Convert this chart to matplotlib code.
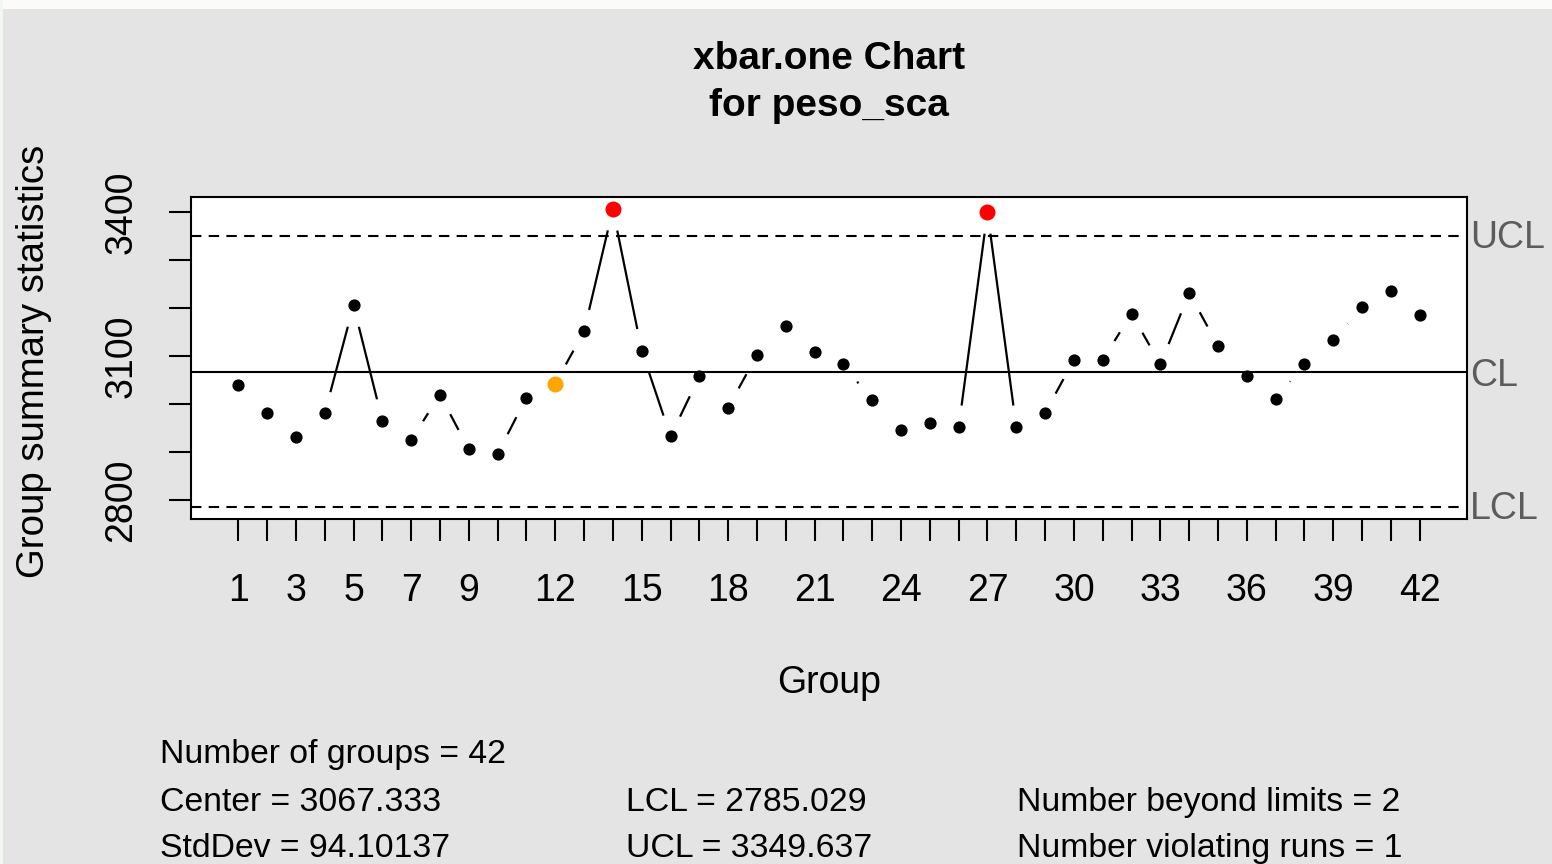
import matplotlib
matplotlib.use('Agg')
import matplotlib.pyplot as plt
import numpy as np

# données
groups = list(range(1, 43))
values = [3040, 2980, 2931, 2980, 3205, 2965, 2925, 3019, 2905, 2896,
          3013, 3042, 3151, 3406, 3111, 2932, 3057, 2992, 3102, 3163,
          3107, 3082, 3007, 2946, 2961, 2951, 3400, 2951, 2981, 3092,
          3092, 3188, 3082, 3231, 3121, 3057, 3011, 3082, 3132, 3202,
          3236, 3186]
beyond_limits = [14, 27]
violating_runs = [12]

center = 3067.333
lcl = 2785.029
ucl = 3349.637
stddev = 94.10137

x_labels_shown = [1, 3, 5, 7, 9, 12, 15, 18, 21, 24, 27, 30, 33, 36, 39, 42]
y_ticks = [2800, 2900, 3000, 3100, 3200, 3300, 3400]
y_labels_shown = [2800, 3100, 3400]

plt.rcParams['font.family'] = ['Liberation Sans', 'DejaVu Sans']

W, H = 1552, 864
fig = plt.figure(figsize=(W / 100, H / 100), dpi=100)
fig.patch.set_facecolor('#e4e4e4')

# bandes blanches de la capture d'écran
fig.patches.append(plt.Rectangle((0, 1 - 9 / H), 1, 9 / H, transform=fig.transFigure,
                                 facecolor='#fbfcfa', edgecolor='none'))
fig.patches.append(plt.Rectangle((0, 0), 3 / W, 1, transform=fig.transFigure,
                                 facecolor='#f3f7f1', edgecolor='none'))

left, right, top, bottom = 191, 1467, 197, 519
ax = fig.add_axes([left / W, 1 - bottom / H, (right - left) / W, (bottom - top) / H])
ax.set_facecolor('white')
ax.set_xlim(-0.64, 43.64)
ax.set_ylim(2760, 3431)

for s in ax.spines.values():
    s.set_linewidth(1.5)

# lignes de contrôle
ax.axhline(center, color='black', lw=1.5)
ax.axhline(ucl, color='black', lw=1.5, dashes=(5, 3.5))
ax.axhline(lcl, color='black', lw=1.5, dashes=(5, 3.5))

# segments avec espace autour des points (type "b" de R)
fig.canvas.draw()
gap = 22
pts = ax.transData.transform(np.column_stack([groups, values]))
inv = ax.transData.inverted()
for i in range(len(pts) - 1):
    p0, p1 = pts[i], pts[i + 1]
    d = np.hypot(*(p1 - p0))
    if d <= 2 * gap:
        continue
    u = (p1 - p0) / d
    a = inv.transform(p0 + u * gap)
    b = inv.transform(p1 - u * gap)
    ax.plot([a[0], b[0]], [a[1], b[1]], color='black', lw=1.6, solid_capstyle='butt')

# points
for g, v in zip(groups, values):
    if g in beyond_limits:
        ax.plot(g, v, 'o', color='#ff0000', ms=11.5, mec='none')
    elif g in violating_runs:
        ax.plot(g, v, 'o', color='#ffa500', ms=11.5, mec='none')
    else:
        ax.plot(g, v, 'o', color='black', ms=8.8, mec='none')

ax.set_xticks(groups)
ax.set_xticklabels([str(g) if g in x_labels_shown else '' for g in groups])
ax.set_yticks(y_ticks)
ax.set_yticklabels([str(t) if t in y_labels_shown else '' for t in y_ticks],
                   rotation=90, va='center')
ax.tick_params(axis='x', length=16, width=1.5, pad=23, labelsize=27)
ax.tick_params(axis='y', length=16, width=1.5, pad=21, labelsize=27)

# étiquettes à droite
for val, lab, dy in [(ucl, 'UCL', 2), (center, 'CL', 4), (lcl, 'LCL', 2)]:
    ax.annotate(lab, (1.0, val), xycoords=ax.get_yaxis_transform(),
                xytext=(3, -dy), textcoords='offset pixels', ha='left', va='center',
                fontsize=27, color='#5c5c5c', annotation_clip=False)

# titres
fig.text(829 / W, 1 - 69 / H, 'xbar.one Chart', ha='center', va='baseline',
         fontsize=28, fontweight='bold')
fig.text(829 / W, 1 - 116 / H, 'for peso_sca', ha='center', va='baseline',
         fontsize=28, fontweight='bold')
fig.text(829 / W, 1 - 693 / H, 'Group', ha='center', va='baseline', fontsize=27)
fig.text(34 / W, 1 - 361 / H, 'Group summary statistics', ha='center', va='center',
         rotation=90, fontsize=27.6)

# statistiques en bas
rows = [763, 811, 857]
fs = 24.3
fig.text(160 / W, 1 - rows[0] / H, 'Number of groups = %d' % len(groups), fontsize=fs)
fig.text(160 / W, 1 - rows[1] / H, 'Center = %.3f' % center, fontsize=fs)
fig.text(160 / W, 1 - rows[2] / H, 'StdDev = %.5f' % stddev, fontsize=fs)
fig.text(626 / W, 1 - rows[1] / H, 'LCL = %.3f' % lcl, fontsize=fs)
fig.text(626 / W, 1 - rows[2] / H, 'UCL = %.3f' % ucl, fontsize=fs)
fig.text(1017 / W, 1 - rows[1] / H, 'Number beyond limits = %d' % len(beyond_limits), fontsize=fs)
fig.text(1017 / W, 1 - rows[2] / H, 'Number violating runs = %d' % len(violating_runs), fontsize=fs)

fig.savefig('out.png', dpi=100, facecolor=fig.get_facecolor())
